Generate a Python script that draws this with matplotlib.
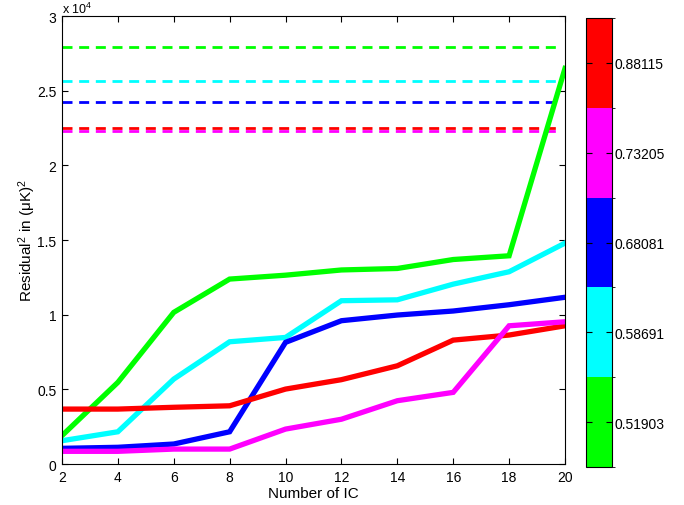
import matplotlib
matplotlib.use('Agg')
import matplotlib.pyplot as plt
from matplotlib.colors import ListedColormap, BoundaryNorm
from matplotlib.cm import ScalarMappable
from matplotlib.ticker import FuncFormatter

plt.rcParams['font.family'] = ['Liberation Sans', 'DejaVu Sans']
plt.rcParams['mathtext.fontset'] = 'custom'
plt.rcParams['mathtext.rm'] = 'Liberation Sans'
plt.rcParams['mathtext.it'] = 'Liberation Sans:italic'

# number of independent components
n_ic = [2, 4, 6, 8, 10, 12, 14, 16, 18, 20]

# residual^2 curves (uK^2), one per threshold
res_green = [1900, 5470, 10160, 12390, 12650, 13000, 13100, 13700, 13950, 26500]
res_cyan = [1560, 2160, 5690, 8190, 8480, 10940, 11000, 12050, 12880, 14800]
res_blue = [1050, 1120, 1340, 2160, 8150, 9600, 9980, 10250, 10670, 11170]
res_red = [3680, 3680, 3800, 3900, 5020, 5650, 6580, 8300, 8640, 9260]
res_magenta = [850, 850, 1000, 1000, 2340, 3000, 4240, 4800, 9260, 9530]

# reference levels (dashed)
ref_levels = [27970, 25650, 24250, 22530, 22280]

colors = ['#00ff00', '#00ffff', '#0000ff', '#ff0000', '#ff00ff']
curves = [res_green, res_cyan, res_blue, res_red, res_magenta]

# colorbar
cbar_labels = ['0.51903', '0.58691', '0.68081', '0.73205', '0.88115']
cbar_colors = ['#00ff00', '#00ffff', '#0000ff', '#ff00ff', '#ff0000']

fig = plt.figure(figsize=(6.84, 5.06), dpi=100)
ax = fig.add_axes([0.0906, 0.081, 0.7354, 0.885])

for lvl, c in zip(ref_levels, colors):
    ax.axhline(lvl, xmin=0, xmax=0.99, color=c, lw=2, ls=(0, (3.6, 2.4)))

for y, c in zip(curves, colors):
    ax.plot(n_ic, y, color=c, lw=3.8, solid_joinstyle='miter')

ax.set_xlim(2, 20)
ax.set_ylim(0, 30000)
ax.set_xticks(n_ic)
ax.set_yticks([0, 5000, 10000, 15000, 20000, 25000, 30000])
ax.yaxis.set_major_formatter(FuncFormatter(lambda v, p: '%g' % (v / 1e4)))
ax.tick_params(direction='in', top=True, right=True, labelsize=10, length=4, pad=4)
ax.text(0.0, 1.0, r'x 10$^4$', transform=ax.transAxes, fontsize=9, va='bottom')
ax.set_xlabel('Number of IC', fontsize=11, labelpad=2)
ax.set_ylabel('Residual$^2$ in (μK)$^2$', fontsize=11, labelpad=-1)

cax = fig.add_axes([0.857, 0.075, 0.038, 0.8875])
cmap = ListedColormap(cbar_colors)
norm = BoundaryNorm(range(len(cbar_colors) + 1), cmap.N)
cb = fig.colorbar(ScalarMappable(norm=norm, cmap=cmap), cax=cax)
cb.set_ticks([i + 0.5 for i in range(len(cbar_labels))])
cb.set_ticklabels(cbar_labels)
cax.tick_params(direction='in', left=True, right=True, labelsize=10, length=4, pad=2)

fig.savefig('out.png', dpi=100)
